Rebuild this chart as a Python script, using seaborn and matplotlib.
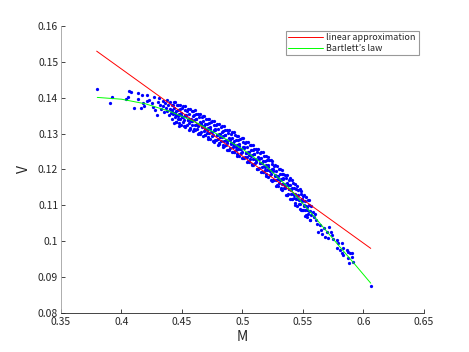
import matplotlib
matplotlib.use("Agg")
import matplotlib.pyplot as plt
import seaborn as sns
import pandas as pd

# ---- data ----
# sparse left part of the scatter
m_left = [0.3795, 0.3905, 0.3924, 0.4037, 0.4056, 0.4062, 0.4079, 0.4103, 0.4134, 0.4134,
          0.4159, 0.4167, 0.4175, 0.4186, 0.4208, 0.4213, 0.4230, 0.4250, 0.4263, 0.4271,
          0.4277, 0.4291, 0.4298, 0.4310, 0.4318, 0.4325, 0.4340, 0.4345, 0.4352, 0.4360,
          0.4368, 0.4375, 0.4380, 0.4388, 0.4395, 0.4400, 0.4405, 0.4410, 0.4415, 0.4420]
v_left = [0.1424, 0.1385, 0.1401, 0.1397, 0.1401, 0.1420, 0.1417, 0.1371, 0.1412, 0.1397,
          0.1371, 0.1408, 0.1385, 0.1377, 0.1408, 0.1392, 0.1394, 0.1385, 0.1375, 0.1403,
          0.1366, 0.1352, 0.1389, 0.1398, 0.1380, 0.1368, 0.1392, 0.1376, 0.1360, 0.1386,
          0.1372, 0.1395, 0.1363, 0.1380, 0.1352, 0.1389, 0.1370, 0.1358, 0.1380, 0.1365]

# dense band (first set)
m_band = [
    0.4423, 0.4416, 0.4426, 0.4418, 0.4435, 0.4442, 0.4439, 0.4447, 0.4461, 0.4468, 0.4454, 0.4464,
    0.4483, 0.4476, 0.4486, 0.4478, 0.4495, 0.4502, 0.4499, 0.4507, 0.4521, 0.4528, 0.4514, 0.4524,
    0.4543, 0.4536, 0.4546, 0.4538, 0.4555, 0.4562, 0.4559, 0.4567, 0.4581, 0.4588, 0.4574, 0.4584,
    0.4603, 0.4596, 0.4606, 0.4598, 0.4615, 0.4622, 0.4619, 0.4627, 0.4641, 0.4648, 0.4634, 0.4644,
    0.4663, 0.4656, 0.4666, 0.4658, 0.4675, 0.4682, 0.4679, 0.4687, 0.4701, 0.4708, 0.4694, 0.4704,
    0.4723, 0.4716, 0.4726, 0.4718, 0.4735, 0.4742, 0.4739, 0.4747, 0.4761, 0.4768, 0.4754, 0.4764,
    0.4783, 0.4776, 0.4786, 0.4778, 0.4795, 0.4802, 0.4799, 0.4807, 0.4821, 0.4828, 0.4814, 0.4824,
    0.4843, 0.4836, 0.4846, 0.4838, 0.4855, 0.4862, 0.4859, 0.4867, 0.4881, 0.4888, 0.4874, 0.4884,
    0.4903, 0.4896, 0.4906, 0.4898, 0.4915, 0.4922, 0.4919, 0.4927, 0.4941, 0.4948, 0.4934, 0.4944,
    0.4963, 0.4956, 0.4966, 0.4958, 0.4975, 0.4982, 0.4979, 0.4987, 0.5001, 0.5008, 0.4994, 0.5004,
    0.5023, 0.5016, 0.5026, 0.5018, 0.5035, 0.5042, 0.5039, 0.5047, 0.5061, 0.5068, 0.5054, 0.5064,
    0.5083, 0.5076, 0.5086, 0.5078, 0.5095, 0.5102, 0.5099, 0.5107, 0.5121, 0.5128, 0.5114, 0.5124,
    0.5143, 0.5136, 0.5146, 0.5138, 0.5155, 0.5162, 0.5159, 0.5167, 0.5181, 0.5188, 0.5174, 0.5184,
    0.5203, 0.5196, 0.5206, 0.5198, 0.5215, 0.5222, 0.5219, 0.5227, 0.5241, 0.5248, 0.5234, 0.5244,
    0.5263, 0.5256, 0.5266, 0.5258, 0.5275, 0.5282, 0.5279, 0.5287, 0.5301, 0.5308, 0.5294, 0.5304,
    0.5323, 0.5316, 0.5326, 0.5318, 0.5335, 0.5342, 0.5339, 0.5347, 0.5361, 0.5368, 0.5354, 0.5364,
    0.5383, 0.5376, 0.5386, 0.5378, 0.5395, 0.5402, 0.5399, 0.5407, 0.5421, 0.5428, 0.5414, 0.5424,
    0.5443, 0.5436, 0.5446, 0.5438, 0.5455, 0.5462, 0.5459, 0.5467, 0.5481, 0.5488, 0.5474, 0.5484,
    0.5503, 0.5496, 0.5506, 0.5498, 0.5515, 0.5522, 0.5519, 0.5527, 0.5541, 0.5548, 0.5534, 0.5544,
    0.5563, 0.5556, 0.5566, 0.5558]
v_band = [
    0.1381, 0.1367, 0.1354, 0.1341, 0.1371, 0.1357, 0.1345, 0.1332, 0.1380, 0.1366, 0.1352, 0.1340,
    0.1369, 0.1355, 0.1342, 0.1330, 0.1358, 0.1345, 0.1372, 0.1332, 0.1365, 0.1351, 0.1338, 0.1319,
    0.1364, 0.1350, 0.1337, 0.1325, 0.1355, 0.1341, 0.1329, 0.1316, 0.1363, 0.1349, 0.1335, 0.1323,
    0.1352, 0.1338, 0.1325, 0.1313, 0.1340, 0.1327, 0.1354, 0.1314, 0.1347, 0.1333, 0.1320, 0.1301,
    0.1345, 0.1331, 0.1318, 0.1305, 0.1334, 0.1320, 0.1308, 0.1295, 0.1342, 0.1328, 0.1314, 0.1302,
    0.1330, 0.1316, 0.1303, 0.1291, 0.1318, 0.1305, 0.1332, 0.1292, 0.1324, 0.1310, 0.1297, 0.1278,
    0.1323, 0.1309, 0.1296, 0.1283, 0.1312, 0.1298, 0.1286, 0.1273, 0.1319, 0.1305, 0.1291, 0.1279,
    0.1307, 0.1293, 0.1280, 0.1268, 0.1295, 0.1282, 0.1309, 0.1269, 0.1301, 0.1287, 0.1274, 0.1255,
    0.1299, 0.1285, 0.1272, 0.1259, 0.1288, 0.1274, 0.1262, 0.1249, 0.1295, 0.1281, 0.1267, 0.1255,
    0.1283, 0.1269, 0.1256, 0.1244, 0.1271, 0.1258, 0.1285, 0.1245, 0.1277, 0.1263, 0.1250, 0.1231,
    0.1274, 0.1260, 0.1247, 0.1234, 0.1262, 0.1248, 0.1236, 0.1223, 0.1268, 0.1254, 0.1240, 0.1228,
    0.1255, 0.1241, 0.1228, 0.1216, 0.1243, 0.1230, 0.1257, 0.1217, 0.1248, 0.1234, 0.1221, 0.1202,
    0.1245, 0.1231, 0.1218, 0.1205, 0.1233, 0.1219, 0.1207, 0.1194, 0.1239, 0.1225, 0.1211, 0.1199,
    0.1226, 0.1212, 0.1199, 0.1187, 0.1212, 0.1199, 0.1226, 0.1186, 0.1215, 0.1201, 0.1188, 0.1169,
    0.1211, 0.1197, 0.1184, 0.1171, 0.1197, 0.1183, 0.1171, 0.1158, 0.1202, 0.1188, 0.1174, 0.1162,
    0.1187, 0.1173, 0.1160, 0.1148, 0.1173, 0.1160, 0.1187, 0.1147, 0.1176, 0.1162, 0.1149, 0.1130,
    0.1172, 0.1158, 0.1145, 0.1132, 0.1158, 0.1144, 0.1132, 0.1119, 0.1161, 0.1147, 0.1133, 0.1121,
    0.1145, 0.1131, 0.1118, 0.1106, 0.1130, 0.1117, 0.1144, 0.1104, 0.1132, 0.1118, 0.1105, 0.1086,
    0.1127, 0.1113, 0.1100, 0.1087, 0.1112, 0.1098, 0.1086, 0.1073, 0.1115, 0.1101, 0.1087, 0.1075,
    0.1099, 0.1085, 0.1072, 0.1060]

# dense band (second set, filling the gaps)
m_band2 = [
    0.4432, 0.4427, 0.4435, 0.4446, 0.4453, 0.4449, 0.4471, 0.4468, 0.4476, 0.4487, 0.4494, 0.4490,
    0.4512, 0.4507, 0.4515, 0.4526, 0.4533, 0.4529, 0.4551, 0.4548, 0.4556, 0.4567, 0.4574, 0.4570,
    0.4592, 0.4587, 0.4595, 0.4606, 0.4613, 0.4609, 0.4631, 0.4628, 0.4636, 0.4647, 0.4654, 0.4650,
    0.4672, 0.4667, 0.4675, 0.4686, 0.4693, 0.4689, 0.4711, 0.4708, 0.4716, 0.4727, 0.4734, 0.4730,
    0.4752, 0.4747, 0.4755, 0.4766, 0.4773, 0.4769, 0.4791, 0.4788, 0.4796, 0.4807, 0.4814, 0.4810,
    0.4832, 0.4827, 0.4835, 0.4846, 0.4853, 0.4849, 0.4871, 0.4868, 0.4876, 0.4887, 0.4894, 0.4890,
    0.4912, 0.4907, 0.4915, 0.4926, 0.4933, 0.4929, 0.4951, 0.4948, 0.4956, 0.4967, 0.4974, 0.4970,
    0.4992, 0.4987, 0.4995, 0.5006, 0.5013, 0.5009, 0.5031, 0.5028, 0.5036, 0.5047, 0.5054, 0.5050,
    0.5072, 0.5067, 0.5075, 0.5086, 0.5093, 0.5089, 0.5111, 0.5108, 0.5116, 0.5127, 0.5134, 0.5130,
    0.5152, 0.5147, 0.5155, 0.5166, 0.5173, 0.5169, 0.5191, 0.5188, 0.5196, 0.5207, 0.5214, 0.5210,
    0.5232, 0.5227, 0.5235, 0.5246, 0.5253, 0.5249, 0.5271, 0.5268, 0.5276, 0.5287, 0.5294, 0.5290,
    0.5312, 0.5307, 0.5315, 0.5326, 0.5333, 0.5329, 0.5351, 0.5348, 0.5356, 0.5367, 0.5374, 0.5370,
    0.5392, 0.5387, 0.5395, 0.5406, 0.5413, 0.5409, 0.5431, 0.5428, 0.5436, 0.5447, 0.5454, 0.5450,
    0.5472, 0.5467, 0.5475, 0.5486, 0.5493, 0.5489, 0.5511, 0.5508, 0.5516, 0.5527, 0.5534, 0.5530,
    0.5552, 0.5547, 0.5555]
v_band2 = [
    0.1387, 0.1357, 0.1331, 0.1388, 0.1364, 0.1333, 0.1379, 0.1348, 0.1322, 0.1380, 0.1352, 0.1324,
    0.1376, 0.1346, 0.1320, 0.1377, 0.1353, 0.1322, 0.1368, 0.1337, 0.1311, 0.1369, 0.1341, 0.1313,
    0.1364, 0.1334, 0.1308, 0.1365, 0.1341, 0.1310, 0.1356, 0.1325, 0.1299, 0.1356, 0.1328, 0.1300,
    0.1350, 0.1320, 0.1294, 0.1350, 0.1326, 0.1295, 0.1341, 0.1310, 0.1284, 0.1341, 0.1313, 0.1285,
    0.1335, 0.1305, 0.1279, 0.1336, 0.1312, 0.1281, 0.1326, 0.1295, 0.1269, 0.1326, 0.1298, 0.1270,
    0.1320, 0.1290, 0.1264, 0.1320, 0.1296, 0.1265, 0.1310, 0.1279, 0.1253, 0.1310, 0.1282, 0.1254,
    0.1304, 0.1274, 0.1248, 0.1304, 0.1280, 0.1249, 0.1294, 0.1263, 0.1237, 0.1294, 0.1266, 0.1238,
    0.1288, 0.1258, 0.1232, 0.1288, 0.1264, 0.1233, 0.1277, 0.1246, 0.1220, 0.1276, 0.1248, 0.1220,
    0.1269, 0.1239, 0.1213, 0.1268, 0.1244, 0.1213, 0.1257, 0.1226, 0.1200, 0.1256, 0.1228, 0.1200,
    0.1249, 0.1219, 0.1193, 0.1248, 0.1224, 0.1193, 0.1238, 0.1207, 0.1181, 0.1236, 0.1208, 0.1180,
    0.1227, 0.1197, 0.1171, 0.1225, 0.1201, 0.1170, 0.1212, 0.1181, 0.1155, 0.1210, 0.1182, 0.1154,
    0.1201, 0.1171, 0.1145, 0.1199, 0.1175, 0.1144, 0.1186, 0.1155, 0.1129, 0.1184, 0.1156, 0.1128,
    0.1175, 0.1145, 0.1119, 0.1172, 0.1148, 0.1117, 0.1159, 0.1128, 0.1102, 0.1155, 0.1127, 0.1099,
    0.1145, 0.1115, 0.1089, 0.1141, 0.1117, 0.1086, 0.1128, 0.1097, 0.1071, 0.1124, 0.1096, 0.1068,
    0.1114, 0.1084, 0.1058]

# sparse right tail
m_tail = [0.5585, 0.5592, 0.5600, 0.5610, 0.5618, 0.5627, 0.5640, 0.5650, 0.5660, 0.5672,
          0.5682, 0.5696, 0.5709, 0.5717, 0.5729, 0.5742, 0.5751, 0.5778, 0.5787, 0.5820,
          0.5778, 0.5806, 0.5820, 0.5833, 0.5833, 0.5861, 0.5874, 0.5888, 0.5902, 0.5907,
          0.5874, 0.5883, 0.5911, 0.6060]
v_tail = [0.1082, 0.1068, 0.1075, 0.1058, 0.1047, 0.1027, 0.1045, 0.1032, 0.1020, 0.1038,
          0.1013, 0.1027, 0.1008, 0.1039, 0.1025, 0.1017, 0.1005, 0.1003, 0.0996, 0.0994,
          0.0980, 0.0976, 0.0966, 0.0962, 0.0980, 0.0976, 0.0971, 0.0968, 0.0957, 0.0966,
          0.0952, 0.0939, 0.0943, 0.0875]

# linear approximation (end points)
lin_m = [0.3795, 0.6060]
lin_v = [0.1530, 0.0980]

# Bartlett's law curve
bart_m = [0.380, 0.400, 0.420, 0.440, 0.460, 0.480, 0.500, 0.520, 0.540, 0.560, 0.580, 0.592, 0.606]
bart_v = [0.1401, 0.1396, 0.1383, 0.1362, 0.1334, 0.1297, 0.1257, 0.1208, 0.1143, 0.1066, 0.0986, 0.0939, 0.0883]

x_ticks = [0.35, 0.4, 0.45, 0.5, 0.55, 0.6, 0.65]
y_ticks = [0.08, 0.09, 0.1, 0.11, 0.12, 0.13, 0.14, 0.15, 0.16]
x_ticklabels = ["0.35", "0.4", "0.45", "0.5", "0.55", "0.6", "0.65"]
y_ticklabels = ["0.08", "0.09", "0.1", "0.11", "0.12", "0.13", "0.14", "0.15", "0.16"]

# ---- plotting ----
sns.set_theme(style="white")
plt.rcParams["font.family"] = ["Noto Sans CJK JP", "DejaVu Sans"]

scatter_df = pd.DataFrame({"M": m_left + m_band + m_band2 + m_tail,
                           "V": v_left + v_band + v_band2 + v_tail})
lin_df = pd.DataFrame({"M": lin_m, "V": lin_v})
bart_df = pd.DataFrame({"M": bart_m, "V": bart_v})

fig = plt.figure(figsize=(4.69, 3.52), dpi=100)
ax = fig.add_axes([0.130, 0.111, 0.774, 0.815])

sns.scatterplot(data=scatter_df, x="M", y="V", ax=ax, color="#0000ff", marker="o",
                s=5.5, linewidth=0, legend=False, zorder=2)
sns.lineplot(data=lin_df, x="M", y="V", ax=ax, color="#ff0000", linewidth=0.7,
             label="linear approximation", sort=False, zorder=3)
sns.lineplot(data=bart_df, x="M", y="V", ax=ax, color="#00ff00", linewidth=0.7,
             label="Bartlett’s law", sort=False, zorder=3)

ax.set_xlim(0.35, 0.65)
ax.set_ylim(0.08, 0.16)
ax.set_xticks(x_ticks)
ax.set_xticklabels(x_ticklabels)
ax.set_yticks(y_ticks)
ax.set_yticklabels(y_ticklabels)

for side in ["top", "right"]:
    ax.spines[side].set_visible(False)
for side in ["left", "bottom"]:
    ax.spines[side].set_color("#262626")
    ax.spines[side].set_linewidth(0.6)
ax.spines["left"].set_color("#a0a0a0")

ax.tick_params(axis="both", direction="in", length=3, width=0.6, colors="#262626",
               labelsize=7.5, left=True, bottom=True)
ax.tick_params(axis="x", pad=3)
ax.tick_params(axis="y", pad=2)

ax.set_xlabel("M", fontsize=10, color="#262626", labelpad=2)
ax.set_ylabel("V", fontsize=10, color="#262626", labelpad=5)

leg = ax.legend(loc="upper right", bbox_to_anchor=(0.99, 0.99), fontsize=6.5,
                frameon=True, fancybox=False, borderpad=0.3, handlelength=3.8,
                labelspacing=0.15, handletextpad=0.4, borderaxespad=0.2)
leg.get_frame().set_edgecolor("#808080")
leg.get_frame().set_linewidth(0.8)

fig.savefig("out.png", dpi=100)
